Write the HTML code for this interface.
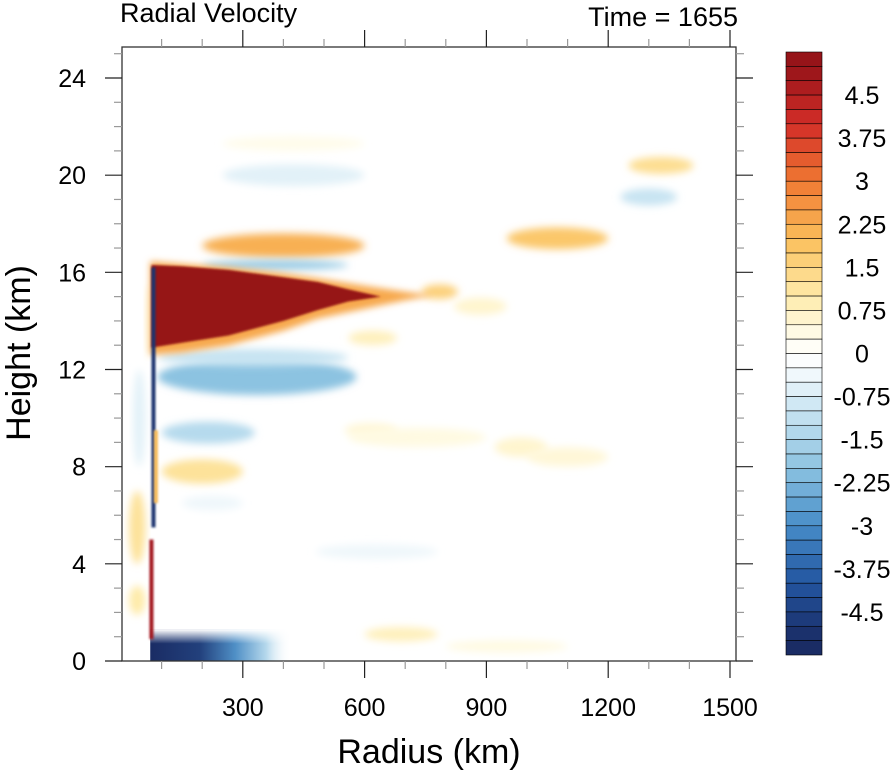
<!DOCTYPE html>
<html><head><meta charset="utf-8">
<style>
body{margin:0;background:#fff;font-family:"Liberation Sans",sans-serif;}
svg text{font-family:"Liberation Sans",sans-serif;fill:#000;}
</style></head>
<body>
<svg id="chart" width="895" height="774" viewBox="0 0 895 774" xmlns="http://www.w3.org/2000/svg">
<defs>
<filter id="blur" x="-30%" y="-80%" width="160%" height="260%"><feGaussianBlur stdDeviation="4"/></filter>
<filter id="blur3" x="-30%" y="-80%" width="160%" height="260%"><feGaussianBlur stdDeviation="3.5"/></filter>
<filter id="blur2" x="-50%" y="-50%" width="200%" height="200%"><feGaussianBlur stdDeviation="1"/></filter>
<linearGradient id="botgrad" x1="0" x2="1" y1="0" y2="0">
<stop offset="0" stop-color="#1a2c64"/><stop offset="0.35" stop-color="#22407c"/><stop offset="0.6" stop-color="#4f8fc6"/><stop offset="0.82" stop-color="#b5d8ec"/><stop offset="1" stop-color="#fff" stop-opacity="0"/>
</linearGradient>
<linearGradient id="botv" x1="0" x2="0" y1="0" y2="1">
<stop offset="0" stop-color="#fff" stop-opacity="1"/><stop offset="0.45" stop-color="#fff" stop-opacity="0"/>
</linearGradient>
<clipPath id="clip"><rect x="122" y="47" width="614" height="614"/></clipPath>
</defs>
<g id="field" clip-path="url(#clip)"></g>
<g id="axes"></g>
<g id="cbar"></g>
<text x="120" y="22" font-size="27">Radial Velocity</text>
<text x="738" y="26" font-size="27" text-anchor="end">Time = 1655</text>
<text x="429" y="763" font-size="34" text-anchor="middle">Radius (km)</text>
<text transform="translate(30,353) rotate(-90)" font-size="34" text-anchor="middle">Height (km)</text>
</svg>
<script>
const xTicks=[300,600,900,1200,1500];
const yTicks=[0,4,8,12,16,20,24];
const cbarLabels=["4.5","3.75","3","2.25","1.5","0.75","0","-0.75","-1.5","-2.25","-3","-3.75","-4.5"];
const cbarLevels=[];for(let i=0;i<42;i++)cbarLevels.push(5.125-i*0.25);
// blobs: [rStart, rEnd, height(km), thickness(km), value(m/s)]
const blobR0=[90,200,950,1250,1230,250,200,90,100,560,100,740,820,920,1000,150,600,480,250,550,800,20,20,30,60,560];
const blobR1=[580,600,1200,1410,1370,600,560,560,330,680,300,830,950,1050,1200,300,780,780,600,680,1100,60,60,60,75,900];
const blobZ=[11.7,17.1,17.4,20.4,19.1,20.0,16.3,12.5,9.4,13.3,7.8,15.2,14.6,8.8,8.4,6.5,1.1,4.5,21.3,9.5,0.6,5.5,2.5,10,14,9.2];
const blobH=[0.75,0.5,0.45,0.35,0.35,0.45,0.2,0.35,0.45,0.3,0.5,0.3,0.35,0.4,0.4,0.3,0.3,0.3,0.3,0.3,0.25,1.5,0.6,2,1.5,0.4];
const blobV=[-2.0,2.2,1.8,1.3,-1.0,-0.6,-1.8,-1.0,-1.3,0.8,1.2,1.6,0.6,0.6,0.5,-0.4,0.8,-0.4,0.3,0.5,0.4,1.2,1.0,-0.6,0.5,0.4];
// main outflow jet (dark core)
const wedgeR=[75,150,265,400,485,560,640,560,485,400,265,150,75];
const wedgeZ=[16.3,16.25,16.1,15.8,15.6,15.3,15.0,14.8,14.45,14.0,13.4,13.1,12.9];
// jet halo (orange fringe)
const haloR=[72,150,265,400,485,600,700,770,700,600,485,400,265,150,72];
const haloZ=[16.45,16.35,16.2,15.95,15.75,15.45,15.2,15.05,14.85,14.5,14.1,13.6,13.0,12.7,12.6];
// eyewall lines: [r, zBottom, zTop, value]
const lineR=[80,75,86];
const lineZ0=[5.5,0.9,6.5];
const lineZ1=[16.2,5.0,9.5];
const lineV=[-4.8,4.8,2.0];
const ns="http://www.w3.org/2000/svg";
const X=r=>121+r*0.406;
const Y=z=>661-z*583/24;
const stops=[[-5,[26,44,100]],[-4,[35,85,160]],[-3,[70,140,200]],[-2,[140,195,225]],[-1,[200,228,242]],[-0.3,[245,250,253]],[0,[255,255,255]],[0.3,[255,252,235]],[1,[254,235,170]],[2,[250,190,90]],[3,[240,120,50]],[4,[210,45,40]],[5,[150,20,25]]];
function col(v){if(v<=stops[0][0])return `rgb(${stops[0][1]})`;for(let i=1;i<stops.length;i++){if(v<=stops[i][0]){const a=stops[i-1],b=stops[i],t=(v-a[0])/(b[0]-a[0]);return `rgb(${a[1].map((c,k)=>Math.round(c+(b[1][k]-c)*t)).join(',')})`;}}return `rgb(${stops[stops.length-1][1]})`;}
function mk(tag,attrs,parent){const e=document.createElementNS(ns,tag);for(const k in attrs)e.setAttribute(k,attrs[k]);parent.appendChild(e);return e;}
const field=document.getElementById('field');
for(let i=0;i<blobR0.length;i++){
  const cx=(X(blobR0[i])+X(blobR1[i]))/2,rx=(X(blobR1[i])-X(blobR0[i]))/2,ry=blobH[i]*583/24;
  const e=mk('ellipse',{cx:cx,cy:Y(blobZ[i]),rx:rx,ry:ry,fill:col(blobV[i]),filter:'url(#blur)'},field);
  
  
}
const bot=mk('rect',{x:X(72),y:Y(1.3),width:X(420)-X(72),height:Y(0)-Y(1.3)+2,fill:'url(#botgrad)'},field);


const botfade=mk('rect',{x:X(72),y:Y(1.3),width:X(420)-X(72),height:Y(0)-Y(1.3),fill:'url(#botv)'},field);


const hpts=haloR.map((r,i)=>X(r)+','+Y(haloZ[i])).join(' ');
const halo=mk('polygon',{points:hpts,fill:col(2.3),filter:'url(#blur3)'},field);


const pts=wedgeR.map((r,i)=>X(r)+','+Y(wedgeZ[i])).join(' ');
const wedge=mk('polygon',{points:pts,fill:col(5.2),filter:'url(#blur2)'},field);


for(let i=0;i<lineR.length;i++){
  const l=mk('rect',{x:X(lineR[i])-2,y:Y(lineZ1[i]),width:4,height:Y(lineZ0[i])-Y(lineZ1[i]),fill:col(lineV[i]),filter:'url(#blur2)'},field);
  
  
}
const ax=document.getElementById('axes');
const frame=mk('rect',{x:122,y:47,width:614,height:614,fill:'none',stroke:'#333','stroke-width':1.3},ax);


for(let r=100;r<=1500;r+=100){const x=X(r);const maj=r%300==0;const L=maj?17:8;const c=maj?'#222':'#999';
  mk('line',{x1:x,x2:x,y1:661,y2:661+L,stroke:c,'stroke-width':1.2},ax);mk('line',{x1:x,x2:x,y1:47,y2:47-L,stroke:c,'stroke-width':1.2},ax);}
xTicks.forEach(v=>{const t=mk('text',{x:X(v),y:716,'font-size':25,'text-anchor':'middle'},ax);t.textContent=v;
  
  });
for(let z=0;z<=25;z++){const y=Y(z);const maj=z%4==0;const L=maj?17:8;const c=maj?'#222':'#999';
  mk('line',{x1:122,x2:122-L,y1:y,y2:y,stroke:c,'stroke-width':1.2},ax);mk('line',{x1:736,x2:736+L,y1:y,y2:y,stroke:c,'stroke-width':1.2},ax);}
yTicks.forEach(v=>{const t=mk('text',{x:86,y:Y(v)+9,'font-size':25,'text-anchor':'end'},ax);t.textContent=v;
  
  });
const cb=document.getElementById('cbar');
const bh=603/cbarLevels.length;
cbarLevels.forEach((v,i)=>{const r=mk('rect',{x:786,y:52+i*bh,width:36,height:bh,fill:col(v),stroke:'#000','stroke-width':0.6},cb);
  
  });
cbarLabels.forEach((s,i)=>{const y=52+(3+i*3)*bh;const t=mk('text',{x:862,y:y+9,'font-size':25,'text-anchor':'middle'},cb);t.textContent=s;
  
  });
</script>
</body></html>
